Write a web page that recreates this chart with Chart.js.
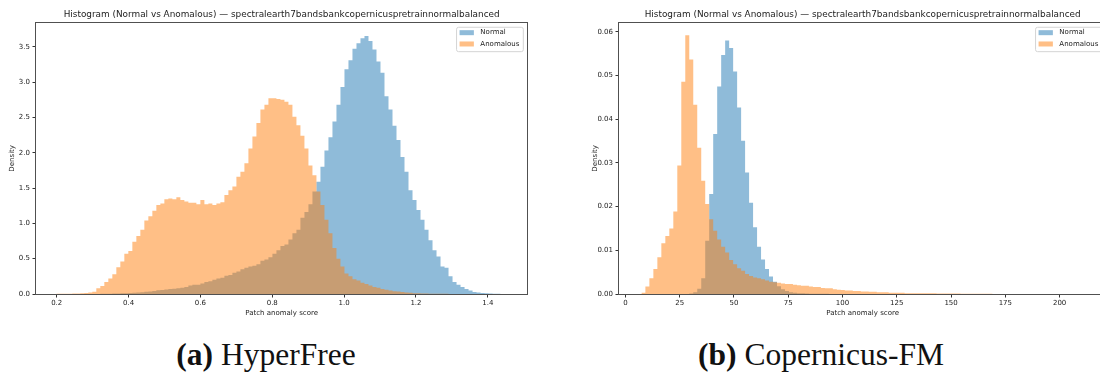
<!DOCTYPE html>
<html lang="en">
<head>
<meta charset="UTF-8">
<title>Patch anomaly score histograms</title>
<script src="https://cdn.jsdelivr.net/npm/chart.js@4.4.0/dist/chart.umd.min.js"></script>
<style>
  html, body { margin: 0; padding: 0; background: #fff; overflow: hidden; width: 1100px; height: 372px; }
  .panel { position: absolute; top: 0; }
  #panelA { left: 0; }
  #panelB { left: 583px; }
  .caption {
    position: absolute; top: 339px; transform: translateX(-50%);
    font-family: "Liberation Serif", serif; font-size: 31.5px; line-height: 31px;
    color: #111; white-space: nowrap;
  }
</style>
</head>
<body>
<div class="panel" id="panelA"><canvas id="chartA" width="540" height="320"></canvas></div>
<div class="panel" id="panelB"><canvas id="chartB" width="536" height="320"></canvas></div>
<div class="caption" style="left:266px"><b>(a)</b> HyperFree</div>
<div class="caption" style="left:821px"><b>(b)</b> Copernicus-FM</div>

<script>
const titleText = "Histogram (Normal vs Anomalous) — spectralearth7bandsbankcopernicuspretrainnormalbalanced";
const seriesNames = ["Normal", "Anomalous"];

// HyperFree: 111 shared bins
const hfBinStart = 0.1988;
const hfBinWidth = 0.011142;
const hfNormal = [
  0, 0, 0, 0, 0, 0, 0, 0, 0, 0, 0,
  0.002, 0.003, 0.004, 0.006, 0.008, 0.010, 0.012, 0.015, 0.018, 0.022,
  0.026, 0.031, 0.037, 0.044, 0.052, 0.058, 0.064, 0.070, 0.076, 0.083,
  0.09, 0.10, 0.12, 0.13, 0.13, 0.15, 0.17, 0.18, 0.20, 0.22,
  0.23, 0.26, 0.27, 0.30, 0.32, 0.35, 0.37, 0.39, 0.40, 0.42,
  0.47, 0.49, 0.52, 0.57, 0.62, 0.68, 0.70, 0.77, 0.86, 0.91,
  1.08, 1.16, 1.27, 1.45, 1.59, 1.80, 2.03, 2.22, 2.44, 2.68,
  2.93, 3.18, 3.31, 3.47, 3.55, 3.62, 3.65, 3.58, 3.46, 3.29,
  3.13, 2.80, 2.61, 2.38, 2.18, 1.94, 1.73, 1.47, 1.33, 1.19,
  1.05, 0.91, 0.76, 0.62, 0.53, 0.39, 0.37, 0.25, 0.17, 0.13,
  0.10, 0.07, 0.05, 0.03, 0.02, 0.015, 0.01, 0.006, 0.004, 0.002
];
const hfAnomalous = [
  0.002, 0.003, 0.003, 0.004, 0.006, 0.008, 0.010, 0.014, 0.020, 0.033,
  0.080, 0.113, 0.17, 0.22, 0.28, 0.38, 0.46, 0.57, 0.61, 0.74,
  0.82, 0.91, 1.04, 1.10, 1.18, 1.26, 1.28, 1.34, 1.35, 1.34,
  1.37, 1.33, 1.31, 1.29, 1.29, 1.27, 1.33, 1.27, 1.28, 1.26,
  1.28, 1.30, 1.40, 1.47, 1.52, 1.66, 1.73, 1.85, 2.06, 2.23,
  2.42, 2.61, 2.68, 2.77, 2.77, 2.76, 2.75, 2.72, 2.68, 2.51,
  2.39, 2.24, 2.06, 1.82, 1.68, 1.45, 1.26, 1.05, 0.86, 0.65,
  0.50, 0.39, 0.29, 0.25, 0.21, 0.19, 0.16, 0.14, 0.12, 0.10,
  0.09, 0.07, 0.06, 0.05, 0.04, 0.035, 0.03, 0.022, 0.016, 0.012,
  0.010, 0.008, 0.006, 0.005, 0.004, 0.003, 0.002, 0.002, 0.001, 0.001,
  0.001, 0.001, 0.0005, 0.0005, 0.0005, 0.0003, 0.0003, 0.0002, 0.0002, 0.0001, 0.0001
];
const hfXTicks = [0.2, 0.4, 0.6, 0.8, 1.0, 1.2, 1.4];
const hfYTicks = [0, 0.5, 1.0, 1.5, 2.0, 2.5, 3.0, 3.5];

// Copernicus-FM: 112 shared bins
const cfBinStart = 7.37;
const cfBinWidth = 1.837;
const cfNormal = [
  0, 0, 0, 0, 0, 0, 0, 0, 0, 0, 0, 0,
  0.0001, 0.0004, 0.0012, 0.0036, 0.0122, 0.0229, 0.0366, 0.0475, 0.0547, 0.0580,
  0.0563, 0.0509, 0.0427, 0.0351, 0.0278, 0.0209, 0.0153, 0.0108, 0.0079, 0.0057,
  0.0040, 0.0028, 0.0018, 0.0011, 0.0007, 0.0004, 0.0003, 0.0002, 0.00015, 0.0001,
  0.00008, 0.00006, 0.00005, 0.00004, 0.00003, 0.00002, 0.00002, 0.00001, 0.00001, 0.00001,
  0, 0, 0, 0, 0, 0, 0, 0, 0, 0,
  0, 0, 0, 0, 0, 0, 0, 0, 0, 0,
  0, 0, 0, 0, 0, 0, 0, 0, 0, 0,
  0, 0, 0, 0, 0, 0, 0, 0, 0, 0,
  0, 0, 0, 0, 0, 0, 0, 0, 0, 0,
  0, 0, 0, 0, 0, 0, 0, 0, 0, 0
];
const cfAnomalous = [
  0.0003, 0.0017, 0.0036, 0.0057, 0.0084, 0.0116, 0.0133, 0.0150, 0.0189, 0.0294,
  0.0486, 0.0592, 0.0537, 0.0433, 0.0335, 0.0259, 0.0206, 0.0171, 0.0145, 0.0125,
  0.0108, 0.0095, 0.0078, 0.0068, 0.0059, 0.0053, 0.0046, 0.0041, 0.0038, 0.0036,
  0.0034, 0.0031, 0.0028, 0.0027, 0.0026, 0.0024, 0.0023, 0.0023, 0.0021, 0.0020,
  0.0019, 0.0019, 0.0017, 0.0016, 0.0016, 0.0014, 0.0013, 0.0013, 0.0011, 0.0010,
  0.0009, 0.0008, 0.0008, 0.0007, 0.0007, 0.0006, 0.0006, 0.0005, 0.0005, 0.0004,
  0.0004, 0.0004, 0.0003, 0.0003, 0.0003, 0.0003, 0.0002, 0.0002, 0.0002, 0.0002,
  0.0002, 0.00015, 0.00015, 0.00015, 0.00012, 0.00012, 0.0001, 0.0001, 0.0001, 0.0001,
  0.00008, 0.00008, 0.00008, 0.00006, 0.00005, 0.00004, 0.00003, 0.00003, 0.00002, 0.00002,
  0.00002, 0.00001, 0.00001, 0.00001, 0.00001, 0, 0, 0, 0, 0,
  0, 0, 0, 0, 0, 0, 0, 0, 0, 0, 0, 0.00001
];
const cfXTicks = [0, 25, 50, 75, 100, 125, 150, 175, 200];
const cfYTicks = [0, 0.01, 0.02, 0.03, 0.04, 0.05, 0.06];

const FONT = "DejaVu Sans";
const TEXT = "#222";
const blueFill = "rgba(31, 119, 180, 0.5)";
const orangeFill = "rgba(255, 127, 14, 0.5)";

// axes frame on all four sides plus a boxed legend in the upper right corner
const frameLegend = {
  id: "frameLegend",
  afterDatasetsDraw(chart) {
    const { ctx, chartArea: a } = chart;
    ctx.save();
    ctx.strokeStyle = "#505050";
    ctx.lineWidth = 1;
    ctx.strokeRect(Math.round(a.left) - 0.5, Math.round(a.top) - 0.5,
                   Math.round(a.right - a.left) + 1, Math.round(a.bottom - a.top) + 1);

    ctx.font = "7px '" + FONT + "'";
    const sets = chart.data.datasets;
    const textW = Math.max(...sets.map(d => ctx.measureText(d.label).width));
    const w = 3 + 14.3 + 6.5 + textW + 4;
    const h = 24.4;
    const x = a.right - 4 - w;
    const y = a.top + 4.6;
    ctx.beginPath();
    ctx.roundRect(x, y, w, h, 2);
    ctx.fillStyle = "rgba(255,255,255,0.8)";
    ctx.fill();
    ctx.strokeStyle = "#d4d4d4";
    ctx.stroke();
    sets.forEach((d, i) => {
      const cy = y + 5.4 + i * 11.3;
      ctx.fillStyle = d.backgroundColor;
      ctx.fillRect(x + 3, cy - 2.5, 14.3, 5);
      ctx.fillStyle = TEXT;
      ctx.textBaseline = "middle";
      ctx.fillText(d.label, x + 3 + 14.3 + 6.5, cy);
    });
    ctx.restore();
  }
};

function histChart(id, opts) {
  // histogram outline: one point per left bin edge, plus the closing right edge
  const toSteps = vals => {
    const pts = vals.map((v, i) => ({ x: opts.binStart + i * opts.binWidth, y: v }));
    pts.push({ x: opts.binStart + vals.length * opts.binWidth, y: vals[vals.length - 1] });
    return pts;
  };
  const tickFont = { family: FONT, size: 7 };
  const histStyle = {
    stepped: "before", fill: "origin", pointRadius: 0, borderWidth: 0,
    borderColor: "transparent", tension: 0
  };

  return new Chart(document.getElementById(id), {
    type: "line",
    data: {
      datasets: [
        { ...histStyle, label: seriesNames[0], data: toSteps(opts.normal), backgroundColor: blueFill, order: 1 },
        { ...histStyle, label: seriesNames[1], data: toSteps(opts.anomalous), backgroundColor: orangeFill, order: 0 }
      ]
    },
    options: {
      responsive: false,
      animation: false,
      events: [],
      layout: { padding: { left: 0, right: 12.7, top: 0, bottom: 0 } },
      plugins: {
        legend: { display: false },
        tooltip: { enabled: false },
        title: {
          display: true, text: titleText, color: TEXT, fullSize: false,
          font: { family: FONT, size: 8.9, weight: "normal" },
          padding: { top: 9.6, bottom: 2.4 }
        }
      },
      scales: {
        x: {
          type: "linear", min: opts.xMin, max: opts.xMax, offset: false,
          afterBuildTicks: s => { s.ticks = opts.xTicks.map(v => ({ value: v })); },
          afterFit: s => { s.height = 26; },
          grid: { display: true, offset: false, drawOnChartArea: false, drawTicks: true, tickLength: 3.5, color: "#333" },
          border: { display: false },
          ticks: { font: tickFont, color: TEXT, padding: 1, maxRotation: 0, autoSkip: false,
                   callback: v => v.toFixed(opts.xDigits) },
          title: { display: true, text: "Patch anomaly score", color: TEXT,
                   font: tickFont, padding: { top: 0, bottom: 3.1 } }
        },
        y: {
          min: 0, max: opts.yMax,
          afterBuildTicks: s => { s.ticks = opts.yTicks.map(v => ({ value: v })); },
          afterFit: s => { s.width = 36; },
          grid: { display: true, drawOnChartArea: false, drawTicks: true, tickLength: 3.5, color: "#333" },
          border: { display: false },
          ticks: { font: tickFont, color: TEXT, padding: 2.5, autoSkip: false,
                   callback: v => v.toFixed(opts.yDigits) },
          title: { display: true, text: "Density", color: TEXT,
                   font: tickFont, padding: { top: 8, bottom: 0 } }
        }
      }
    },
    plugins: [frameLegend]
  });
}

histChart("chartA", {
  binStart: hfBinStart, binWidth: hfBinWidth, normal: hfNormal, anomalous: hfAnomalous,
  xMin: 0.1423, xMax: 1.510, xTicks: hfXTicks, xDigits: 1,
  yMax: 3.84, yTicks: hfYTicks, yDigits: 1
});

histChart("chartB", {
  binStart: cfBinStart, binWidth: cfBinWidth, normal: cfNormal, anomalous: cfAnomalous,
  xMin: -2.95, xMax: 221.5, xTicks: cfXTicks, xDigits: 0,
  yMax: 0.0621, yTicks: cfYTicks, yDigits: 2
});
</script>
</body>
</html>
